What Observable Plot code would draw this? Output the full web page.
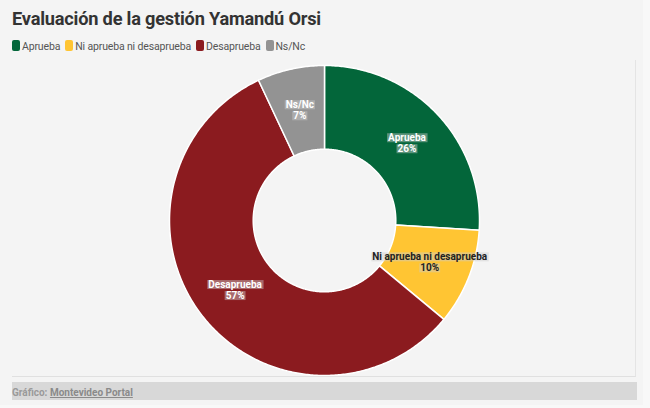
<!DOCTYPE html>
<html>
<head>
<meta charset="utf-8">
<script src="https://cdn.jsdelivr.net/npm/d3@7"></script>
<script src="https://cdn.jsdelivr.net/npm/@observablehq/plot@0.6"></script>
<style>
  html, body { margin: 0; padding: 0; background: #f8f8f8; }
  #wrap { width: 643px; height: 405px; background: #f4f4f4; position: relative; overflow: hidden;
          font-family: Roboto, sans-serif; }
  #title { position: absolute; left: 12px; top: 7px; font-size: 18.2px; font-weight: 700; color: #333; line-height: 24px; white-space: nowrap; letter-spacing: -0.2px; }
  #legend { position: absolute; left: 12px; top: 40px; font-size: 10.5px; color: #555; line-height: 14px; white-space: nowrap; letter-spacing: -0.15px; }
  #legend span.item { margin-right: 5px; }
  #legend span.sw { display: inline-block; width: 8px; height: 11px; border-radius: 2px; margin-right: 2px; vertical-align: -1px; }
  #chart { position: absolute; left: 12px; top: 60px; width: 623px; height: 316px; border-right: 1px solid #e4e4e4; border-bottom: 1px solid #e0e0e0; }
  #caption { position: absolute; left: 12px; top: 382px; width: 625px; height: 18px; background: #d8d8d8; font-size: 10px; font-weight: 700; color: #9a9a9a; line-height: 21px; }
  #caption a { color: #8a8a8a; text-decoration: underline; }
</style>
</head>
<body>
<div id="wrap">
  <div id="title">Evaluación de la gestión Yamandú Orsi</div>
  <div id="legend"></div>
  <div id="chart"></div>
  <div id="caption">Gráfico: <a>Montevideo Portal</a></div>
</div>
<script>
const categories = ["Aprueba", "Ni aprueba ni desaprueba", "Desaprueba", "Ns/Nc"];
const values = [26, 10, 57, 7];
const colors = ["#03663a", "#ffc533", "#8b1b1f", "#939393"];
const labelColors = ["#ffffff", "#222222", "#ffffff", "#ffffff"];

// legend
const legend = document.getElementById("legend");
categories.forEach((c, i) => {
  const it = document.createElement("span");
  it.className = "item";
  const sw = document.createElement("span");
  sw.className = "sw";
  sw.style.background = colors[i];
  it.appendChild(sw);
  it.appendChild(document.createTextNode(c));
  legend.appendChild(it);
});

const W = 623, H = 316, R = 155;
const outer = 1, inner = 0.46;
const arcs = d3.pie().sort(null).value(d => d)(values);

function slicePoints(a) {
  const pts = [];
  const n = Math.max(4, Math.ceil((a.endAngle - a.startAngle) / 0.01));
  for (let k = 0; k <= n; k++) {
    const t = a.startAngle + (a.endAngle - a.startAngle) * k / n;
    pts.push({x: outer * Math.sin(t), y: outer * Math.cos(t)});
  }
  for (let k = n; k >= 0; k--) {
    const t = a.startAngle + (a.endAngle - a.startAngle) * k / n;
    pts.push({x: inner * Math.sin(t), y: inner * Math.cos(t)});
  }
  return pts;
}

const labels = arcs.map((a, i) => {
  const m = (a.startAngle + a.endAngle) / 2;
  const r = (outer + inner) / 2;
  return {name: categories[i], pct: values[i] + "%", x: r * Math.sin(m), y: r * Math.cos(m), tc: labelColors[i]};
});

const sliceMarks = arcs.map((a, i) =>
  Plot.line(slicePoints(a), {x: "x", y: "y", fill: colors[i], stroke: "#ffffff", strokeWidth: 1.5, curve: "linear-closed"})
);

const plot = Plot.plot({
  width: W, height: H,
  margin: 0,
  style: {background: "transparent", fontFamily: "Roboto, sans-serif"},
  x: {domain: [-312 / R, 311 / R], axis: null},
  y: {domain: [-156 / R, 160 / R], axis: null},
  color: {type: "identity"},
  marks: [
    ...sliceMarks,
    Plot.text(labels, {x: "x", y: "y", text: "name", dy: -5, fill: "tc", fontSize: 10, fontWeight: 700, className: "lbl"}),
    Plot.text(labels, {x: "x", y: "y", text: "pct", dy: 6, fill: "tc", fontSize: 10, fontWeight: 700, className: "lbl"})
  ]
});
document.getElementById("chart").appendChild(plot);

// translucent boxes behind label lines
plot.querySelectorAll(".lbl text").forEach(t => {
  const b = t.getBBox();
  const rect = document.createElementNS("http://www.w3.org/2000/svg", "rect");
  rect.setAttribute("x", b.x - 1);
  rect.setAttribute("y", b.y + 1);
  rect.setAttribute("width", b.width + 2);
  rect.setAttribute("height", b.height - 2);
  rect.setAttribute("fill", "rgba(205,205,205,0.45)");
  const tr = t.getAttribute("transform");
  if (tr) rect.setAttribute("transform", tr);
  t.parentNode.insertBefore(rect, t);
});
</script>
</body>
</html>
